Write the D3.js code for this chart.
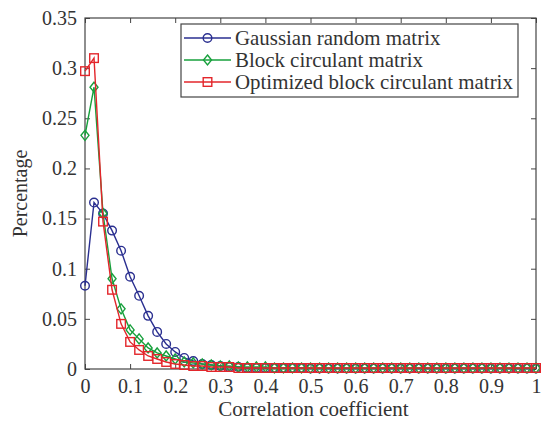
<!DOCTYPE html>
<html>
<head>
<meta charset="utf-8">
<script src="https://cdn.jsdelivr.net/npm/d3@7"></script>
<style>
  html, body { margin: 0; padding: 0; background: #fff; }
  svg { display: block; }
  text { font-family: "Liberation Serif", "Times New Roman", serif; fill: #333; }
</style>
</head>
<body>
<svg id="chart" width="542" height="423"></svg>
<script>
// ---- data ----
const xValues = d3.range(51).map(i => +(i * 0.02).toFixed(2));
const seriesNames = ["Gaussian random matrix", "Block circulant matrix", "Optimized block circulant matrix"];
const gaussian = [0.083, 0.166, 0.155, 0.138, 0.118, 0.092, 0.073, 0.053, 0.037, 0.025,
  0.017, 0.011, 0.008, 0.005, 0.004, 0.003, 0.002, 0.002, 0.001, 0.001,
  0.001, 0.001, 0.001, 0.001, 0.001, 0.0005, 0.0005, 0.0005, 0.0005, 0.0005,
  0.0005, 0.0005, 0.0005, 0.0005, 0.0005, 0.0005, 0.0005, 0.0005, 0.0005, 0.0005,
  0.0005, 0.0005, 0.0005, 0.0005, 0.0005, 0.0005, 0.0005, 0.0005, 0.0005, 0.0005, 0.0005];
const block = [0.233, 0.281, 0.155, 0.090, 0.060, 0.039, 0.030, 0.021, 0.016, 0.013,
  0.010, 0.007, 0.006, 0.005, 0.004, 0.003, 0.003, 0.002, 0.002, 0.002,
  0.002, 0.001, 0.001, 0.001, 0.001, 0.001, 0.001, 0.001, 0.001, 0.001,
  0.001, 0.001, 0.001, 0.001, 0.001, 0.001, 0.001, 0.001, 0.001, 0.001,
  0.001, 0.001, 0.001, 0.001, 0.001, 0.001, 0.001, 0.001, 0.001, 0.001, 0.001];
const optimized = [0.297, 0.310, 0.147, 0.079, 0.045, 0.027, 0.019, 0.013, 0.010, 0.007,
  0.005, 0.004, 0.003, 0.003, 0.002, 0.002, 0.002, 0.001, 0.001, 0.001,
  0.001, 0.001, 0.001, 0.001, 0.001, 0.001, 0.001, 0.001, 0.001, 0.001,
  0.001, 0.001, 0.001, 0.001, 0.001, 0.001, 0.001, 0.001, 0.001, 0.001,
  0.001, 0.001, 0.001, 0.001, 0.001, 0.001, 0.001, 0.001, 0.001, 0.001, 0.001];
const xTicks = [0, 0.1, 0.2, 0.3, 0.4, 0.5, 0.6, 0.7, 0.8, 0.9, 1];
const yTicks = [0, 0.05, 0.1, 0.15, 0.2, 0.25, 0.3, 0.35];
const xLabel = "Correlation coefficient";
const yLabel = "Percentage";

// ---- layout ----
const svg = d3.select("#chart");
const L = 85, R = 536, T = 18, B = 369;
const x = d3.scaleLinear().domain([0, 1]).range([L, R]);
const y = d3.scaleLinear().domain([0, 0.35]).range([B, T]);
const colors = ["#2a2f90", "#17a03c", "#e3262b"];
const markers = ["circle", "diamond", "square"];
const axisColor = "#444";

// axes (MATLAB box style, inward ticks)
const fmt = d => d === 0 ? "0" : d === 1 ? "1" : String(d);
const gx = svg.append("g").attr("transform", `translate(0,${B})`)
  .call(d3.axisBottom(x).tickValues(xTicks).tickFormat(fmt).tickSizeInner(-5).tickSizeOuter(0).tickPadding(10));
const gxTop = svg.append("g").attr("transform", `translate(0,${T})`)
  .call(d3.axisTop(x).tickValues(xTicks).tickFormat("").tickSizeInner(-5).tickSizeOuter(0));
const gy = svg.append("g").attr("transform", `translate(${L},0)`)
  .call(d3.axisLeft(y).tickValues(yTicks).tickFormat(fmt).tickSizeInner(-5).tickSizeOuter(0).tickPadding(8));
const gyR = svg.append("g").attr("transform", `translate(${R},0)`)
  .call(d3.axisRight(y).tickValues(yTicks).tickFormat("").tickSizeInner(-5).tickSizeOuter(0));
[gx, gxTop, gy, gyR].forEach(g => {
  g.select(".domain").remove();
  g.selectAll("line").attr("stroke", axisColor);
  g.selectAll("text").style("font-size", "20px").attr("fill", "#333")
    .style("font-family", '"Liberation Serif", "Times New Roman", serif');
});
gx.selectAll("text").attr("dy", "0.71em");
svg.append("rect").attr("x", L).attr("y", T).attr("width", R - L).attr("height", B - T)
  .attr("fill", "none").attr("stroke", axisColor).attr("stroke-width", 1.2);

// axis labels
svg.append("text").attr("x", (L + R) / 2 + 3).attr("y", 416).attr("text-anchor", "middle")
  .style("font-size", "21px").text(xLabel);
svg.append("text").attr("transform", `translate(27,${(T + B) / 2}) rotate(-90)`)
  .attr("text-anchor", "middle").style("font-size", "20px").text(yLabel);

// marker drawing
function drawMarker(g, type, cx, cy, color) {
  if (type === "circle") {
    g.append("circle").attr("cx", cx).attr("cy", cy).attr("r", 4.3)
      .attr("fill", "none").attr("stroke", color).attr("stroke-width", 1.4);
  } else if (type === "diamond") {
    g.append("path").attr("d", `M${cx},${cy - 5}L${cx + 4},${cy}L${cx},${cy + 5}L${cx - 4},${cy}Z`)
      .attr("fill", "none").attr("stroke", color).attr("stroke-width", 1.4);
  } else {
    g.append("rect").attr("x", cx - 4.3).attr("y", cy - 4.3).attr("width", 8.6).attr("height", 8.6)
      .attr("fill", "none").attr("stroke", color).attr("stroke-width", 1.4);
  }
}

const allSeries = [gaussian, block, optimized];
const line = d3.line().x((d, i) => x(xValues[i])).y(d => y(d));
allSeries.forEach((vals, s) => {
  const g = svg.append("g");
  g.append("path").datum(vals).attr("d", line).attr("fill", "none")
    .attr("stroke", colors[s]).attr("stroke-width", 1.4);
  vals.forEach((v, i) => drawMarker(g, markers[s], x(xValues[i]), y(v), colors[s]));
});

// legend
const lg = svg.append("g");
lg.append("rect").attr("x", 181).attr("y", 24).attr("width", 337).attr("height", 73)
  .attr("fill", "#fff").attr("stroke", axisColor).attr("stroke-width", 1.2);
seriesNames.forEach((name, s) => {
  const yy = 38 + s * 22;
  lg.append("line").attr("x1", 184).attr("x2", 231).attr("y1", yy).attr("y2", yy)
    .attr("stroke", colors[s]).attr("stroke-width", 1.4);
  drawMarker(lg, markers[s], 207.5, yy, colors[s]);
  lg.append("text").attr("x", 235).attr("y", yy).attr("dy", "0.35em")
    .style("font-size", "20.9px").text(name);
});
</script>
</body>
</html>
